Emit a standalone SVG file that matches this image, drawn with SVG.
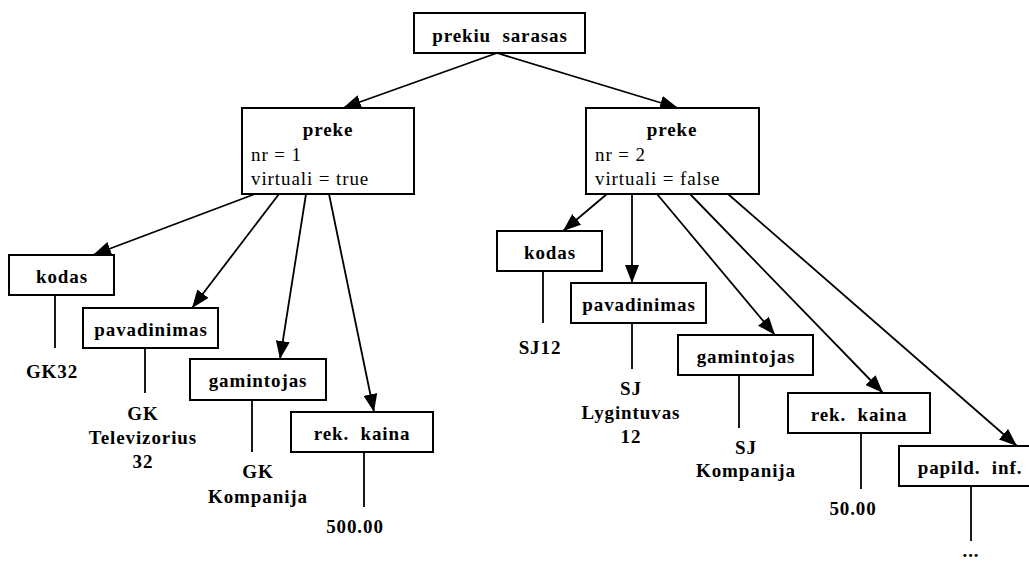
<svg xmlns="http://www.w3.org/2000/svg" width="1029" height="561" viewBox="0 0 1029 561" font-family="'Liberation Serif', 'Times New Roman', Tinos, 'DejaVu Serif', serif">
<style>
rect.box{fill:#fff;stroke:#000;stroke-width:2}
text{font-family:'Liberation Serif','Times New Roman',Tinos,'DejaVu Serif',serif;font-size:19px;letter-spacing:0.9px;fill:#000;white-space:pre}
.b{font-weight:bold;text-anchor:middle}
.r{font-weight:normal}
.conn line{stroke:#000;stroke-width:1.8}
</style>
<defs>
<marker id="ah" viewBox="0 0 18 14" refX="18" refY="7" markerWidth="18" markerHeight="14" markerUnits="userSpaceOnUse" orient="auto">
<path d="M0,0 L18,7 L0,14 z" fill="#000"/>
</marker>
</defs>
<g class="conn">
<line x1="497" y1="53" x2="343" y2="108" marker-end="url(#ah)"/>
<line x1="497" y1="53" x2="678" y2="108" marker-end="url(#ah)"/>
<line x1="255" y1="194" x2="93" y2="255" marker-end="url(#ah)"/>
<line x1="279" y1="194" x2="192" y2="308" marker-end="url(#ah)"/>
<line x1="306" y1="194" x2="280" y2="359" marker-end="url(#ah)"/>
<line x1="329" y1="194" x2="374" y2="412" marker-end="url(#ah)"/>
<line x1="607" y1="194" x2="563" y2="231" marker-end="url(#ah)"/>
<line x1="632" y1="194" x2="632" y2="283" marker-end="url(#ah)"/>
<line x1="657" y1="194" x2="775" y2="335" marker-end="url(#ah)"/>
<line x1="690" y1="194" x2="883" y2="393" marker-end="url(#ah)"/>
<line x1="728" y1="194" x2="1017" y2="446" marker-end="url(#ah)"/>
<line x1="55" y1="295" x2="55" y2="348"/>
<line x1="145" y1="348" x2="145" y2="393"/>
<line x1="252" y1="400" x2="252" y2="452"/>
<line x1="364" y1="452" x2="364" y2="507"/>
<line x1="543" y1="271" x2="543" y2="323"/>
<line x1="632" y1="323" x2="632" y2="369"/>
<line x1="739" y1="375" x2="739" y2="428"/>
<line x1="861" y1="433" x2="861" y2="489"/>
<line x1="971" y1="486" x2="971" y2="541"/>
</g>
<g id="root"><rect class="box" x="414" y="13" width="171" height="40"/><text class="b" x="500" y="42">prekiu  sarasas</text></g>
<g id="preke1"><rect class="box" x="242" y="108" width="172" height="86"/><text class="b" x="328" y="136">preke</text><text class="r" x="251" y="161">nr = 1</text><text class="r" x="251" y="185">virtuali = true</text></g>
<g id="preke2"><rect class="box" x="586" y="108" width="173" height="86"/><text class="b" x="672" y="136">preke</text><text class="r" x="595" y="161">nr = 2</text><text class="r" x="595" y="185">virtuali = false</text></g>
<g id="kodas1"><rect class="box" x="9" y="255" width="105" height="40"/><text class="b" x="62" y="283">kodas</text></g>
<g id="pavadinimas1"><rect class="box" x="83" y="308" width="135" height="40"/><text class="b" x="151" y="336">pavadinimas</text></g>
<g id="gamintojas1"><rect class="box" x="190" y="359" width="136" height="41"/><text class="b" x="258" y="387">gamintojas</text></g>
<g id="kaina1"><rect class="box" x="291" y="412" width="142" height="40"/><text class="b" x="362" y="440">rek.  kaina</text></g>
<g id="kodas2"><rect class="box" x="497" y="231" width="105" height="40"/><text class="b" x="550" y="259">kodas</text></g>
<g id="pavadinimas2"><rect class="box" x="571" y="283" width="135" height="40"/><text class="b" x="639" y="311">pavadinimas</text></g>
<g id="gamintojas2"><rect class="box" x="678" y="335" width="135" height="40"/><text class="b" x="746" y="363">gamintojas</text></g>
<g id="kaina2"><rect class="box" x="788" y="393" width="142" height="40"/><text class="b" x="859" y="421">rek.  kaina</text></g>
<g id="papild"><rect class="box" x="899" y="446" width="142" height="40"/><text class="b" x="970" y="474">papild.  inf.</text></g>
<g id="values">
<text class="b" x="52" y="378">GK32</text>
<text class="b" x="143" y="420">GK</text><text class="b" x="143" y="444">Televizorius</text><text class="b" x="143" y="468">32</text>
<text class="b" x="258" y="478">GK</text><text class="b" x="258" y="503">Kompanija</text>
<text class="b" x="355" y="533">500.00</text>
<text class="b" x="540" y="354">SJ12</text>
<text class="b" x="631" y="395">SJ</text><text class="b" x="631" y="419">Lygintuvas</text><text class="b" x="631" y="443">12</text>
<text class="b" x="746" y="454">SJ</text><text class="b" x="746" y="477">Kompanija</text>
<text class="b" x="853" y="515">50.00</text>
<text class="b" x="971" y="557">...</text>
</g>
</svg>
